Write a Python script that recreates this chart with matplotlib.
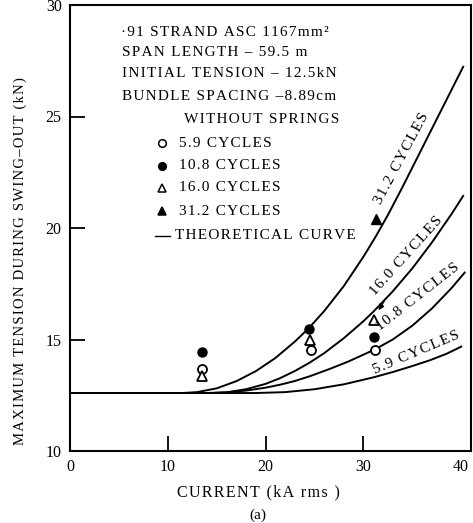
import matplotlib.pyplot as plt

plt.rcParams['font.family'] = ['Liberation Serif', 'DejaVu Serif']


def spaced(text):
    """widen the lettering a little, the scan uses loose letter spacing"""
    return '\u200a'.join(text)


# measured points, kA rms vs kN
current_5_9 = [13.45, 24.6, 31.15]
tension_5_9 = [13.67, 14.52, 14.55]
current_10_8 = [13.45, 24.4, 31.05]
tension_10_8 = [14.42, 15.49, 15.11]
current_16_0 = [13.45, 24.5, 31.05]
tension_16_0 = [13.36, 15.0, 15.89]
current_31_2 = [31.25]
tension_31_2 = [20.39]

# theoretical curves
curve_31_2_x = [0, 11.5, 13, 15, 17, 19, 21, 23, 24.4, 26, 28, 30, 31.25, 32.5, 34, 36, 38, 40.2]
curve_31_2_y = [12.6, 12.6, 12.64, 12.81, 13.13, 13.58, 14.17, 14.91, 15.5, 16.28, 17.4, 18.71,
                19.61, 20.58, 21.84, 23.58, 25.32, 27.23]
curve_16_0_x = [0, 14.5, 16, 18, 20, 21.45, 23, 24.5, 26, 28, 30, 31, 33, 35, 37, 39, 40.2]
curve_16_0_y = [12.6, 12.6, 12.63, 12.77, 13.01, 13.26, 13.59, 13.96, 14.39, 15.06, 15.82, 16.24,
                17.16, 18.19, 19.35, 20.62, 21.44]
curve_10_8_x = [0, 14, 16, 18, 20, 21.45, 23, 24.5, 26.5, 28.5, 31.15, 33, 35, 37, 39, 40.35]
curve_10_8_y = [12.6, 12.6, 12.63, 12.71, 12.84, 12.97, 13.14, 13.35, 13.67, 14.02, 14.55,
                15.0, 15.62, 16.39, 17.3, 18.0]
curve_5_9_x = [0, 19, 22, 25, 28, 31, 33, 35, 36.8, 38.5, 40]
curve_5_9_y = [12.6, 12.6, 12.64, 12.77, 12.99, 13.3, 13.54, 13.81, 14.07, 14.36, 14.68]

x_ticks = [0, 10, 20, 30, 40]
y_ticks = [10, 15, 20, 25, 30]

legend_lines = ['\u00b791 STRAND ASC 1167mm\u00b2',
                'SPAN LENGTH \u2013 59.5 m',
                'INITIAL TENSION \u2013 12.5kN',
                'BUNDLE SPACING \u20138.89cm']

fig = plt.figure(figsize=(4.73, 5.23), dpi=100)
ax = fig.add_axes([70/473, 72/523, 401/473, 446/523])

for cx, cy in [(curve_31_2_x, curve_31_2_y), (curve_16_0_x, curve_16_0_y),
               (curve_10_8_x, curve_10_8_y), (curve_5_9_x, curve_5_9_y)]:
    ax.plot(cx, cy, color='black', lw=1.4)

ms = 6.5
ax.plot(current_5_9, tension_5_9, 'o', mfc='white', mec='black', mew=1.3, ms=ms)
ax.plot(current_10_8, tension_10_8, 'o', mfc='black', mec='black', ms=ms)
ax.plot(current_16_0, tension_16_0, '^', mfc='white', mec='black', mew=1.3, ms=ms)
ax.plot(current_31_2, tension_31_2, '^', mfc='black', mec='black', ms=ms)

ax.set_xlim(0, 41)
ax.set_ylim(10, 30)
ax.set_xticks(x_ticks)
ax.set_yticks(y_ticks)
ax.tick_params(direction='in', length=11, width=1.3, labelsize=11.5, pad=6)
ax.xaxis.get_major_ticks()[-1].tick1line.set_visible(False)
for sp in ax.spines.values():
    sp.set_linewidth(1.5)

# legend block written as text
fs = 11
ax.text(5.2, 28.75, spaced(legend_lines[0]), fontsize=fs, va='center')
ax.text(5.3, 27.85, spaced(legend_lines[1]), fontsize=fs, va='center')
ax.text(5.3, 26.95, spaced(legend_lines[2]), fontsize=fs, va='center')
ax.text(5.3, 25.9, spaced(legend_lines[3]), fontsize=fs, va='center')
ax.text(11.7, 24.85, spaced('WITHOUT SPRINGS'), fontsize=fs, va='center')

key_y = [23.8, 22.8, 21.8, 20.75]
key_labels = ['5.9 CYCLES', '10.8 CYCLES', '16.0 CYCLES', '31.2 CYCLES']
key_style = [('o', 'white'), ('o', 'black'), ('^', 'white'), ('^', 'black')]
for yk, lab, (m, fc) in zip(key_y, key_labels, key_style):
    ax.plot([9.4], [yk], m, mfc=fc, mec='black', mew=1.1, ms=5.5)
    ax.text(11.1, yk, spaced(lab), fontsize=fs, va='center')
ax.plot([8.7, 10.2], [19.65, 19.65], color='black', lw=1)
ax.text(10.7, 19.65, spaced('THEORETICAL CURVE'), fontsize=fs, va='center')

# curve labels
ax.text(33.9, 23.1, spaced('31.2 CYCLES'), fontsize=fs, rotation=62, ha='center', va='center')
ax.text(34.4, 18.75, spaced('16.0 CYCLES'), fontsize=fs, rotation=48, ha='center', va='center')
ax.text(35.6, 16.9, spaced('10.8 CYCLES'), fontsize=fs, rotation=38, ha='center', va='center')
ax.text(35.4, 14.4, spaced('5.9 CYCLES'), fontsize=fs, rotation=23, ha='center', va='center')
ax.annotate('', xy=(31.4, 16.2), xytext=(32.3, 16.85),
            arrowprops=dict(arrowstyle='-|>', color='black', lw=1, mutation_scale=8))

fig.text(20/473, 1 - 261/523, spaced('MAXIMUM TENSION DURING SWING\u2013OUT (kN)'),
         rotation=90, ha='center', va='center', fontsize=10.5)
fig.text(258/473, 1 - 492/523, spaced('CURRENT (kA rms )'), ha='center', va='center',
         fontsize=11.5)
fig.text(258/473, 1 - 515/523, '(a)', ha='center', va='center', fontsize=11)

fig.savefig('out.png', dpi=100)
